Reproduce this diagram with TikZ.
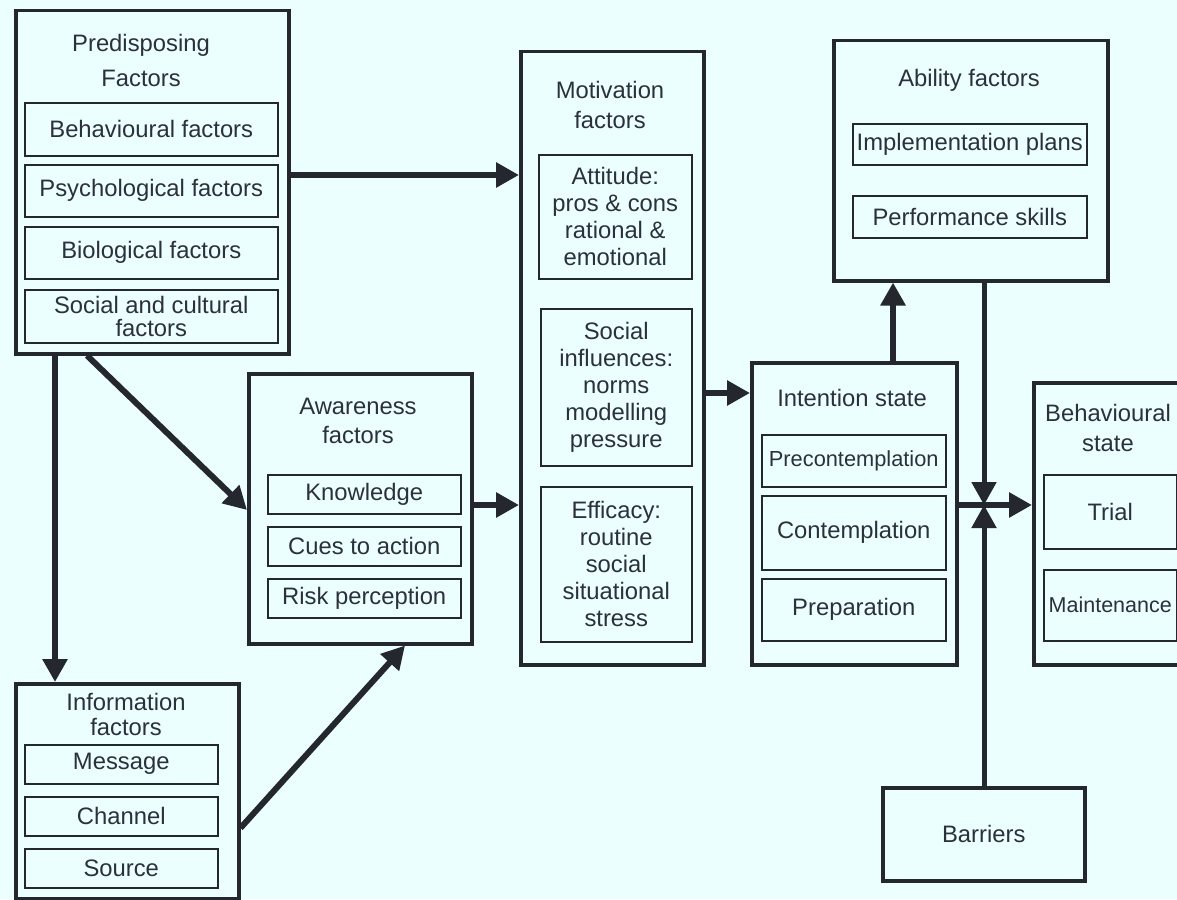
\documentclass[tikz,border=0pt]{standalone}
\usepackage{fontspec}
\setmainfont{Liberation Sans}
\usetikzlibrary{arrows.meta}
\definecolor{bg}{HTML}{EBFFFF}
\definecolor{ink}{HTML}{24272E}
\definecolor{txt}{HTML}{2C303B}
\newcommand\bx[7]{\node[#2, minimum width={(#5-#3)*1pt}, minimum height={(#6-#4)*1pt}, anchor=north west] (#1) at (#3,#4) {#7};}
\begin{document}
\begin{tikzpicture}[x=1pt,y=-1pt,
  outer/.style={draw=ink, line width=3.5pt, fill=bg, inner sep=0pt},
  inbox/.style={draw=ink, line width=1.5pt, fill=bg, inner sep=0pt, align=center, text=txt, font=\fontsize{23.8}{27}\selectfont},
  ttl/.style={inner sep=0pt, align=center, text=txt, font=\fontsize{23.8}{#1}\selectfont},
  ttl/.default=30,
  arr/.style={draw=ink, line width=6pt, -{Triangle[length=23pt,width=24pt]}},
  vln/.style={draw=ink, line width=5pt, -{Triangle[length=23pt,width=24pt]}}
]
\useasboundingbox (0,0) rectangle (1177,899);
\clip (0,0) rectangle (1177,899);
\fill[bg] (0,0) rectangle (1177,899);

% Predisposing factors
\bx{pre}{outer}{14}{9}{287}{352}{}
\node[ttl=35] (preT) at (141,60) {Predisposing\\Factors};
\bx{pre1}{inbox}{24}{102}{277}{155}{Behavioural factors}
\bx{pre2}{inbox}{24}{164}{277}{216}{Psychological factors}
\bx{pre3}{inbox}{24}{226}{277}{278}{Biological factors}
\bx{pre4}{inbox, font=\fontsize{23.8}{23}\selectfont}{24}{289}{277}{342}{Social and cultural\\factors}

% Awareness factors
\bx{awa}{outer}{247}{372}{470}{642}{}
\node[ttl=29] (awaT) at (358,421) {Awareness\\factors};
\bx{awa1}{inbox}{267}{474}{460}{513}{Knowledge}
\bx{awa2}{inbox}{267}{526}{460}{565}{Cues to action}
\bx{awa3}{inbox}{267}{578}{460}{617}{Risk perception}

% Motivation factors
\bx{mot}{outer}{519}{50}{702}{663}{}
\node[ttl=30] (motT) at (610,105) {Motivation\\factors};
\bx{mot1}{inbox}{538}{154}{691}{278}{Attitude:\\pros \& cons\\rational \&\\emotional}
\bx{mot2}{inbox}{540}{308}{691}{465}{Social\\influences:\\norms\\modelling\\pressure}
\bx{mot3}{inbox}{540}{486}{691}{641}{Efficacy:\\routine\\social\\situational\\stress}

% Ability factors
\bx{abi}{outer}{832}{39}{1106}{279}{}
\node[ttl] (abiT) at (969,80) {Ability factors};
\bx{abi1}{inbox}{852}{123}{1086}{164}{Implementation plans}
\bx{abi2}{inbox}{852}{195}{1086}{237}{Performance skills}

% Intention state
\bx{int}{outer}{750}{361}{955}{663}{}
\node[ttl] (intT) at (852,398) {Intention state};
\bx{int1}{inbox, font=\fontsize{21.8}{26}\selectfont}{761}{434}{945}{486}{Precontemplation}
\bx{int2}{inbox}{761}{495}{945}{569}{Contemplation}
\bx{int3}{inbox}{761}{578}{945}{640}{Preparation}

% Behavioural state
\bx{beh}{outer}{1032}{381}{1192}{663}{}
\node[ttl=30] (behT) at (1108,428) {Behavioural\\state};
\bx{beh1}{inbox}{1043}{474}{1176}{548}{Trial}
\bx{beh2}{inbox, font=\fontsize{21.5}{26}\selectfont}{1043}{569}{1176}{640}{Maintenance}

% Information factors
\bx{inf}{outer}{14}{682}{237}{897}{}
\node[ttl=25] (infT) at (126,714) {Information\\factors};
\bx{inf1}{inbox}{24}{744}{217}{783}{Message}
\bx{inf2}{inbox}{24}{796}{217}{835}{Channel}
\bx{inf3}{inbox}{24}{848}{217}{887}{Source}

% Barriers
\bx{bar}{outer, text=txt, font=\fontsize{23.8}{27}\selectfont}{881}{786}{1083}{879}{Barriers}

% helper coordinates
\coordinate (yA) at (0,175);
\coordinate (xV) at (55,0);
\coordinate (xD) at (87,0);
\coordinate (yD) at (0,510);
\coordinate (yAw) at (0,505);
\coordinate (yI) at (0,828);
\coordinate (xI) at (405,0);
\coordinate (yM) at (0,393);
\coordinate (xU) at (893,0);
\coordinate (cx) at (984,505);

% connectors
\draw[arr] (pre.east |- yA) -- (mot.west |- yA);
\draw[arr] (pre.south -| xV) -- (inf.north -| xV);
\draw[arr] (pre.south -| xD) -- (awa.west |- yD);
\draw[arr] (awa.east |- yAw) -- (mot.west |- yAw);
\draw[arr] (inf.east |- yI) -- (awa.south -| xI);
\draw[arr] (mot.east |- yM) -- (int.west |- yM);
\draw[arr] (int.north -| xU) -- (abi.south -| xU);
\draw[arr] (int.east |- cx) -- (beh.west |- cx);
\draw[vln] (abi.south -| cx) -- (cx);
\draw[vln] (bar.north -| cx) -- (cx);
\end{tikzpicture}
\end{document}
